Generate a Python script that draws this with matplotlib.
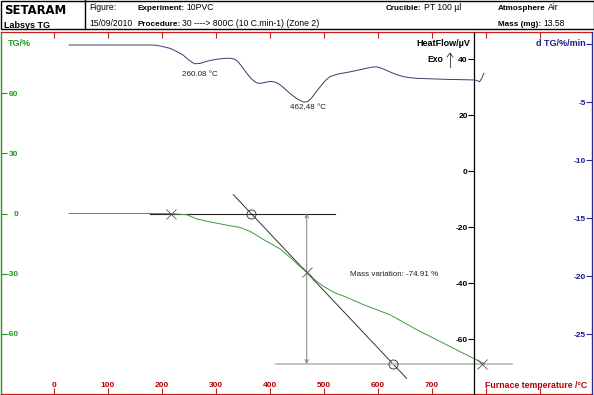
import matplotlib
matplotlib.use("Agg")
import matplotlib.pyplot as plt
from matplotlib.patches import Rectangle
from matplotlib.lines import Line2D

plt.rcParams['font.family'] = ['Liberation Sans', 'DejaVu Sans']

# ---------------- data ----------------
tg_T = [28, 100, 178, 216, 246, 264, 289, 320, 344, 363, 375, 388, 400, 419, 440, 455, 468, 485, 499, 520,
        540, 573, 622, 672, 733, 797]
tg_val = [0, 0, 0, -0.1, -0.6, -2.7, -4.2, -5.8, -6.9, -8.9, -10.8, -13.0, -14.8, -17.7, -22.5, -26.3, -29.2,
          -33.5, -36.3, -39.5, -41.5, -45.4, -50.4, -57.9, -66.2, -74.91]

hf_T = [28, 100, 178, 190, 200, 215, 227, 239, 250, 260, 270, 285, 301, 315, 326, 335, 341, 349, 357, 366,
        375, 382, 390, 400, 408, 415, 425, 437, 450, 462, 470, 478, 486, 493, 502, 511, 525, 548, 565, 579,
        590, 598, 608, 622, 635, 647, 660, 672, 700, 733, 760, 780, 788, 792, 796]
hf_val = [45.0, 45.0, 45.0, 44.9, 44.5, 43.8, 42.7, 41.4, 39.6, 38.3, 38.4, 39.3, 39.9, 40.2, 40.3, 39.9, 39.0,
          37.0, 34.9, 32.8, 31.5, 31.3, 31.6, 32.0, 31.8, 31.3, 29.8, 27.7, 25.8, 24.6, 24.8, 26.3, 28.4, 30.1,
          32.2, 33.7, 34.6, 35.4, 36.1, 36.7, 37.1, 37.2, 36.6, 35.4, 34.4, 33.7, 33.3, 33.1, 32.9, 32.7, 32.6,
          32.5, 31.9, 33.0, 34.9]

cross_T = [216, 468, 792]
cross_TG = [0, -28.9, -74.9]
circle_T = [365, 628]
circle_TG = [0, -74.91]
base_T = [178, 521]
base_TG = [0, 0]
tangent_T = [332, 653]
tangent_TG = [9.4, -82.1]
final_T = [412, 848]
final_TG = [-74.91, -74.91]
arrow_T = 468
arrow_TG = [0, -74.91]

x_ticks = [0, 100, 200, 300, 400, 500, 600, 700, 800, 900]
x_labels = ['0', '100', '200', '300', '400', '500', '600', '700', '', '']
tg_ticks = [-60, -30, 0, 30, 60]
hf_ticks = [-60, -40, -20, 0, 20, 40]
dtg_ticks = [-25, -20, -15, -10, -5, 0]

peak1_label = "260.08 \u00b0C"
peak2_label = "462,48 \u00b0C"
mass_label = "Mass variation: -74.91 %"

# ---------------- colours ----------------
GREEN = '#1f9a1f'
GREEN_LINE = '#3c9c3c'
RED = '#c81e1e'
RED_TXT = '#b40000'
BLUE = '#2a2a9a'
BLUE_TXT = '#1c1c8a'
NAVY = '#3a3a6e'

W, H = 594, 395
fig = plt.figure(figsize=(W / 100, H / 100), dpi=100)

def fx(px):
    return px / W

def fy(py):
    return 1 - py / H

left_px, right_px, top_px, bot_px = 1, 592, 32, 393.5
ax = fig.add_axes([fx(left_px), fy(bot_px), (right_px - left_px) / W, (bot_px - top_px) / H])

def t_of(px):
    return (px - 54) / 0.54

ax.set_xlim(t_of(left_px), t_of(right_px))
ax.set_ylim((213.5 - bot_px) / 2.008, (213.5 - top_px) / 2.008)

ax_hf = ax.twinx()
ax_hf.set_ylim((171 - bot_px) / 2.8, (171 - top_px) / 2.8)
ax_dtg = ax.twinx()
ax_dtg.set_ylim((44 - bot_px) / 11.6, (44 - top_px) / 11.6)

# main axes (TG) spines
for s in ['top', 'bottom']:
    ax.spines[s].set_color(RED)
    ax.spines[s].set_linewidth(0.9)
ax.spines['right'].set_visible(False)
ax.spines['left'].set_color(GREEN)
ax.spines['left'].set_linewidth(1.0)

ax.set_xticks(x_ticks)
ax.set_xticklabels(x_labels)
ax.tick_params(axis='x', which='both', direction='in', top=True, bottom=True, length=4,
               width=0.8, color=RED, labelcolor=RED_TXT, labelsize=6, pad=-8.3)
for lab in ax.get_xticklabels():
    lab.set_fontweight('bold')

ax.yaxis.tick_left()
ax.set_yticks(tg_ticks)
ax.set_yticklabels([str(v) for v in tg_ticks])
ax.tick_params(axis='y', direction='in', length=4, width=0.8, color=GREEN, labelcolor=GREEN,
               labelsize=6, pad=-12.5)
for lab in ax.get_yticklabels():
    lab.set_fontweight('bold')

# heat flow axis
for s in ['top', 'bottom', 'right']:
    ax_hf.spines[s].set_visible(False)
ax_hf.spines['left'].set_visible(True)
ax_hf.spines['left'].set_position(('axes', (474 - left_px) / (right_px - left_px)))
ax_hf.spines['left'].set_color('black')
ax_hf.spines['left'].set_linewidth(0.9)
ax_hf.yaxis.tick_left()
ax_hf.set_yticks(hf_ticks)
ax_hf.set_yticklabels([str(v) for v in hf_ticks])
ax_hf.tick_params(axis='y', direction='out', length=4, width=0.8, color='black', labelcolor='black',
                  labelsize=6, pad=0.5)
for lab in ax_hf.get_yticklabels():
    lab.set_fontweight('bold')

# dTG axis
for s in ['top', 'bottom', 'right']:
    ax_dtg.spines[s].set_visible(False)
ax_dtg.spines['left'].set_visible(True)
ax_dtg.spines['left'].set_position(('axes', 1.0))
ax_dtg.spines['left'].set_color(BLUE)
ax_dtg.spines['left'].set_linewidth(1.0)
ax_dtg.yaxis.tick_left()
ax_dtg.set_yticks(dtg_ticks)
ax_dtg.set_yticklabels(['' if v == 0 else str(v) for v in dtg_ticks])
ax_dtg.tick_params(axis='y', direction='out', length=4, width=0.8, color=BLUE, labelcolor=BLUE_TXT,
                   labelsize=6, pad=0.5)
for lab in ax_dtg.get_yticklabels():
    lab.set_fontweight('bold')

# ---------------- curves ----------------
ax.plot(tg_T, tg_val, color=GREEN_LINE, lw=0.7, zorder=3)
ax_hf.plot(hf_T, hf_val, color=NAVY, lw=0.7, zorder=3)

# construction lines
ax.plot(base_T, base_TG, color='#222222', lw=0.8, zorder=2)
ax.plot(tangent_T, tangent_TG, color='#333333', lw=0.7, zorder=2)
ax.plot(final_T, final_TG, color='#bdbdbd', lw=1.3, zorder=2)
ax.annotate('', xy=(arrow_T, arrow_TG[1]), xytext=(arrow_T, arrow_TG[0]),
            arrowprops=dict(arrowstyle='<->', color='#808080', lw=0.7, shrinkA=0, shrinkB=0,
                            mutation_scale=6))
ax.plot(cross_T, cross_TG, linestyle='none', marker='x', markersize=7, markeredgewidth=0.6,
        color='#555555', zorder=4)
ax.plot(circle_T, circle_TG, linestyle='none', marker='o', markersize=6.5, markeredgewidth=0.7,
        markerfacecolor='none', markeredgecolor='#444444', zorder=4)

ax_hf.text(270, 34.6, peak1_label, fontsize=5.8, ha='center', va='center', color='#222222')
ax_hf.text(470, 22.5, peak2_label, fontsize=5.8, ha='center', va='center', color='#222222')
ax.text(548, -30.6, mass_label, fontsize=5.8, ha='left', va='center', color='#222222')

# ---------------- axis titles ----------------
fig.text(fx(8), fy(44), 'TG/%', color=GREEN, fontsize=6.5, fontweight='bold', ha='left', va='center')
fig.text(fx(470), fy(44), 'HeatFlow/\u00b5V', color='black', fontsize=6.5, fontweight='bold',
         ha='right', va='center')
fig.text(fx(427), fy(60), 'Exo', color='black', fontsize=6.2, fontweight='bold', ha='left', va='center')
fig.add_artist(Line2D([fx(450), fx(450)], [fy(67), fy(53)], color='#333333', lw=0.6))
fig.add_artist(Line2D([fx(447), fx(450), fx(453)], [fy(57), fy(53), fy(57)], color='#333333', lw=0.6))
fig.text(fx(586), fy(44), 'd TG/%/min', color=BLUE_TXT, fontsize=6.5, fontweight='bold',
         ha='right', va='center')
fig.text(fx(485), fy(385), 'Furnace temperature /\u00b0C', color=RED_TXT, fontsize=6.3,
         fontweight='bold', ha='left', va='center')

# ---------------- header ----------------
fig.add_artist(Rectangle((fx(0.5), fy(29)), (W - 1) / W, 28.5 / H, transform=fig.transFigure,
                         fill=False, edgecolor='black', lw=1.0))
fig.add_artist(Line2D([fx(85), fx(85)], [fy(0), fy(29)], color='black', lw=1.0))

fig.text(fx(4), fy(10), 'SETARAM', fontsize=8.4, fontweight='heavy', family='DejaVu Sans',
         ha='left', va='center', color='black')
fig.text(fx(4), fy(25), 'Labsys TG', fontsize=6.5, fontweight='bold', ha='left', va='center')

hdr = dict(va='center', ha='left', color='black')
fig.text(fx(89), fy(8), 'Figure:', fontsize=6.2, **hdr)
fig.text(fx(89), fy(24), '15/09/2010', fontsize=6.2, **hdr)

pairs = [
    (137, 8, 'Experiment:', '10PVC'),
    (137, 24, 'Procedure:', '30 ----> 800C (10 C.min-1) (Zone 2)'),
    (386, 8, 'Crucible:', 'PT 100 \u00b5l'),
    (498, 8, 'Atmosphere', 'Air'),
    (498, 24, 'Mass (mg):', '13.58'),
]
fig.canvas.draw()
renderer = fig.canvas.get_renderer()
for px, py, key, val in pairs:
    t = fig.text(fx(px), fy(py), key, fontsize=5.9, fontweight='bold', **hdr)
    bb = t.get_window_extent(renderer)
    fig.text(fx(bb.x1 + 2), fy(py), val, fontsize=6.2, **hdr)

fig.savefig('out.png', dpi=100)
